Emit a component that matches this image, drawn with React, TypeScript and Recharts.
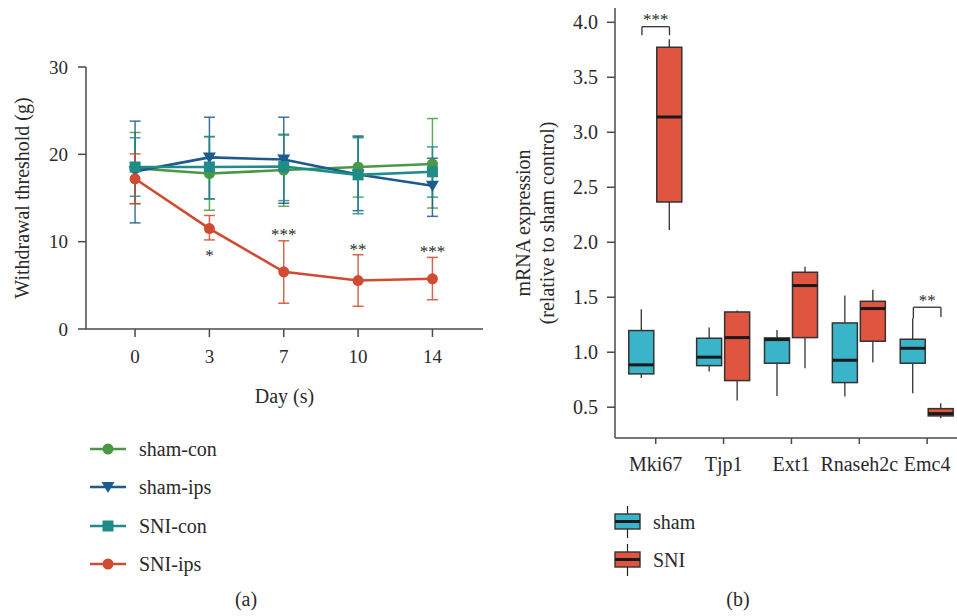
import React from 'react';
import {
  ComposedChart,
  LineChart,
  Line,
  Bar,
  XAxis,
  YAxis,
  ErrorBar,
  ReferenceDot,
  ReferenceLine,
  Legend,
} from 'recharts';

const FONT = '"Liberation Serif", "DejaVu Serif", serif';
const TEXT = '#2a2a2a';
const AXIS = '#4a4a4a';

// ---------- Panel (a) data ----------
const days = ['0', '3', '7', '10', '14'];
const shamConMean = [18.4, 17.8, 18.2, 18.55, 18.9];
const shamConLow = [14.35, 13.6, 14.05, 15.1, 13.85];
const shamConHigh = [22.5, 22.05, 22.3, 22.0, 24.1];
const shamIpsMean = [18.05, 19.65, 19.4, 17.7, 16.4];
const shamIpsLow = [12.15, 14.9, 14.4, 13.55, 12.9];
const shamIpsHigh = [23.8, 24.25, 24.25, 22.1, 19.55];
const sniConMean = [18.55, 18.55, 18.6, 17.65, 18.0];
const sniConLow = [15.2, 14.9, 14.7, 13.2, 15.1];
const sniConHigh = [21.9, 22.0, 22.2, 21.9, 20.85];
const sniIpsMean = [17.2, 11.5, 6.55, 5.55, 5.75];
const sniIpsLow = [14.35, 10.2, 2.95, 2.6, 3.35];
const sniIpsHigh = [20.05, 13.0, 10.1, 8.5, 8.2];
const sigLeftIdx = [1, 2, 3, 4];
const sigLeftText = ['*', '***', '**', '***'];
const sigLeftY = [7.8, 10.2, 8.5, 8.2];

// ---------- Panel (b) data ----------
const genes = ['Mki67', 'Tjp1', 'Ext1', 'Rnaseh2c', 'Emc4'];
const shamMin = [0.766, 0.824, 0.603, 0.597, 0.627];
const shamQ1 = [0.803, 0.878, 0.9, 0.724, 0.9];
const shamMed = [0.885, 0.955, 1.115, 0.927, 1.036];
const shamQ3 = [1.197, 1.127, 1.13, 1.266, 1.118];
const shamMax = [1.391, 1.224, 1.203, 1.515, 1.309];
const sniMin = [2.112, 0.56, 0.854, 0.906, 0.4];
const sniQ1 = [2.366, 0.742, 1.133, 1.1, 0.421];
const sniMed = [3.139, 1.133, 1.606, 1.397, 0.442];
const sniQ3 = [3.773, 1.366, 1.727, 1.463, 0.487];
const sniMax = [3.845, 1.379, 1.778, 1.569, 0.536];
const rightTicks = [0.5, 1.0, 1.5, 2.0, 2.5, 3.0, 3.5, 4.0];
const bracketIdx = [0, 4];
const bracketTop = [3.96, 1.409];
const bracketLeftBottom = [3.882, 1.309];
const bracketRightBottom = [3.882, 1.32];
const bracketText = ['***', '**'];
const bracketTextY = [3.975, 1.42];

const C_GREEN = '#4b9844';
const C_BLUE = '#1d5a8e';
const C_TEAL = '#1f8c88';
const C_RED = '#d04b33';
const C_SHAM = '#3ab4c8';
const C_SNI = '#df5540';

const leftData = days.map((d, i) => ({
  idx: i,
  day: d,
  shamCon: shamConMean[i],
  shamConErr: [shamConMean[i] - shamConLow[i], shamConHigh[i] - shamConMean[i]],
  shamIps: shamIpsMean[i],
  shamIpsErr: [shamIpsMean[i] - shamIpsLow[i], shamIpsHigh[i] - shamIpsMean[i]],
  sniCon: sniConMean[i],
  sniConErr: [sniConMean[i] - sniConLow[i], sniConHigh[i] - sniConMean[i]],
  sniIps: sniIpsMean[i],
  sniIpsErr: [sniIpsMean[i] - sniIpsLow[i], sniIpsHigh[i] - sniIpsMean[i]],
}));

const rightData = genes.map((g, i) => ({
  idx: i,
  gene: g,
  sham: { min: shamMin[i], q1: shamQ1[i], med: shamMed[i], q3: shamQ3[i], max: shamMax[i] },
  sni: { min: sniMin[i], q1: sniQ1[i], med: sniMed[i], q3: sniQ3[i], max: sniMax[i] },
}));

type Shape = 'circle' | 'square' | 'triangle';

const leftSeries: { key: string; name: string; color: string; shape: Shape }[] = [
  { key: 'shamCon', name: 'sham-con', color: C_GREEN, shape: 'circle' },
  { key: 'shamIps', name: 'sham-ips', color: C_BLUE, shape: 'triangle' },
  { key: 'sniCon', name: 'SNI-con', color: C_TEAL, shape: 'square' },
  { key: 'sniIps', name: 'SNI-ips', color: C_RED, shape: 'circle' },
];

function marker(shape: Shape, cx: number, cy: number, color: string, key?: any) {
  if (shape === 'circle') return <circle key={key} cx={cx} cy={cy} r={5.5} fill={color} stroke="none" />;
  if (shape === 'square') return <rect key={key} x={cx - 5.5} y={cy - 5.5} width={11} height={11} fill={color} stroke="none" />;
  return (
    <path
      key={key}
      d={`M${cx - 6.5},${cy - 5} L${cx + 6.5},${cy - 5} L${cx},${cy + 6} Z`}
      fill={color}
      stroke="none"
    />
  );
}

const makeTick = (orient: 'bottom' | 'left', size: number, fmt: (v: any) => string) => (p: any) => {
  const v = p.payload ? p.payload.value : p.value;
  if (orient === 'bottom') {
    return (
      <text x={p.x} y={p.y} dy="0.71em" textAnchor="middle" fontFamily={FONT} fontSize={size} fill={TEXT}>
        {fmt(v)}
      </text>
    );
  }
  return (
    <text x={p.x} y={p.y} dy="0.35em" textAnchor="end" fontFamily={FONT} fontSize={size} fill={TEXT}>
      {fmt(v)}
    </text>
  );
};

const LeftLegend = () => (
  <div style={{ fontFamily: FONT, fontSize: 20, color: TEXT }}>
    {leftSeries.map((s) => (
      <div key={s.key} style={{ display: 'flex', alignItems: 'center', height: 38.3 }}>
        <svg width={36} height={20} style={{ display: 'block' }}>
          <line x1={0} x2={36} y1={10} y2={10} stroke={s.color} strokeWidth={2.5} />
          {marker(s.shape, 18, 10, s.color)}
        </svg>
        <span style={{ marginLeft: 13, lineHeight: '20px' }}>{s.name}</span>
      </div>
    ))}
  </div>
);

const BoxIcon = ({ color }: { color: string }) => (
  <svg width={27} height={32} style={{ display: 'block' }}>
    <line x1={13.5} x2={13.5} y1={0} y2={32} stroke="#222" strokeWidth={1.2} />
    <rect x={1} y={8} width={25} height={15} fill={color} stroke="#333" strokeWidth={1.4} />
    <line x1={1} x2={26} y1={15.5} y2={15.5} stroke="#1a1a1a" strokeWidth={3} />
  </svg>
);

const RightLegend = () => (
  <div style={{ fontFamily: FONT, fontSize: 20, color: TEXT }}>
    {[
      { name: 'sham', color: C_SHAM },
      { name: 'SNI', color: C_SNI },
    ].map((s) => (
      <div key={s.name} style={{ display: 'flex', alignItems: 'center', height: 38.3 }}>
        <BoxIcon color={s.color} />
        <span style={{ marginLeft: 12, lineHeight: '20px' }}>{s.name}</span>
      </div>
    ))}
  </div>
);

const makeBox = (color: string, key: 'sham' | 'sni') => (props: any) => {
  const { x, y, width, height, payload } = props;
  const b = payload[key];
  const top = Math.min(y, y + height);
  const h = Math.abs(height);
  const k = h / (b.q3 - b.q1);
  const yOf = (v: number) => top + (b.q3 - v) * k;
  const cx = x + width / 2;
  return (
    <g>
      <line x1={cx} x2={cx} y1={yOf(b.max)} y2={top} stroke="#333" strokeWidth={1.3} />
      <line x1={cx} x2={cx} y1={top + h} y2={yOf(b.min)} stroke="#333" strokeWidth={1.3} />
      <rect x={x} y={top} width={width} height={h} fill={color} stroke="#333" strokeWidth={1.5} />
      <line x1={x} x2={x + width} y1={yOf(b.med)} y2={yOf(b.med)} stroke="#1a1a1a" strokeWidth={3} />
    </g>
  );
};

const starLabel = (text: string, size: number) => (p: any) => {
  const vb = p.viewBox || {};
  const cx = vb.x + (vb.width || 0) / 2;
  const cy = vb.y + (vb.height || 0) / 2;
  return (
    <text x={cx} y={cy} textAnchor="middle" fontFamily={FONT} fontSize={size} fill={TEXT}>
      {text}
    </text>
  );
};

const RightYLabel = (p: any) => {
  const vb = p.viewBox || {};
  const cy = vb.y + vb.height / 2;
  const x1 = vb.x + 13;
  const x2 = vb.x + 37;
  return (
    <g>
      <text
        x={x1}
        y={cy}
        transform={`rotate(-90, ${x1}, ${cy})`}
        textAnchor="middle"
        dominantBaseline="central"
        fontFamily={FONT}
        fontSize={20}
        fill={TEXT}
      >
        mRNA expression
      </text>
      <text
        x={x2}
        y={cy}
        transform={`rotate(-90, ${x2}, ${cy})`}
        textAnchor="middle"
        dominantBaseline="central"
        fontFamily={FONT}
        fontSize={20}
        fill={TEXT}
      >
        (relative to sham control)
      </text>
    </g>
  );
};

export default function App() {
  return (
    <div
      style={{
        position: 'absolute',
        left: 0,
        top: 0,
        width: 957,
        height: 616,
        background: '#fff',
        fontFamily: FONT,
        overflow: 'hidden',
      }}
    >
      {/* Panel (a) */}
      <div style={{ position: 'absolute', left: 0, top: 0 }}>
        <LineChart
          width={484}
          height={616}
          data={leftData}
          margin={{ top: 67, right: 1, bottom: 257, left: 22 }}
        >
          <XAxis
            type="number"
            dataKey="idx"
            domain={[-0.66, 4.68]}
            ticks={[0, 1, 2, 3, 4]}
            height={30}
            tick={makeTick('bottom', 19, (v) => days[v])}
            tickSize={8}
            tickMargin={13}
            axisLine={{ stroke: AXIS, strokeWidth: 1.5 }}
            tickLine={{ stroke: AXIS, strokeWidth: 1.5 }}
            allowDataOverflow
            label={{
              value: 'Day (s)',
              position: 'bottom',
              offset: 30,
              style: { fontFamily: FONT, fontSize: 20, fill: TEXT },
            }}
          />
          <YAxis
            type="number"
            domain={[0, 30]}
            ticks={[0, 10, 20, 30]}
            width={64}
            tick={makeTick('left', 19, (v) => String(v))}
            tickSize={8}
            tickMargin={10}
            axisLine={{ stroke: AXIS, strokeWidth: 1.5 }}
            tickLine={{ stroke: AXIS, strokeWidth: 1.5 }}
            label={{
              value: 'Withdrawal threshold (g)',
              angle: -90,
              position: 'insideLeft',
              offset: 0,
              style: { textAnchor: 'middle', fontFamily: FONT, fontSize: 20, fill: TEXT },
            }}
          />
          {leftSeries.map((s) => (
            <Line
              key={s.key}
              type="linear"
              dataKey={s.key}
              name={s.name}
              stroke={s.color}
              strokeWidth={2.6}
              isAnimationActive={false}
              dot={(p: any) => marker(s.shape, p.cx, p.cy, s.color, `${s.key}-${p.index}`)}
              activeDot={false}
            >
              <ErrorBar
                dataKey={`${s.key}Err`}
                direction="y"
                width={5.5}
                stroke={s.color}
                strokeWidth={1.5}
                strokeOpacity={0.85}
                isAnimationActive={false}
              />
            </Line>
          ))}
          {sigLeftIdx.map((ix, i) => (
            <ReferenceDot
              key={`sig-${i}`}
              x={ix}
              y={sigLeftY[i]}
              r={0}
              fill="none"
              stroke="none"
              label={starLabel(sigLeftText[i], 17)}
            />
          ))}
          <Legend
            layout="vertical"
            align="center"
            verticalAlign="middle"
            content={<LeftLegend />}
            wrapperStyle={{ left: 90, top: 430, bottom: 'auto', right: 'auto', width: 'auto' }}
          />
        </LineChart>
      </div>

      {/* Panel (b) */}
      <div style={{ position: 'absolute', left: 480, top: 0 }}>
        <ComposedChart
          width={477}
          height={616}
          data={rightData}
          margin={{ top: 8, right: 0, bottom: 138, left: 30 }}
          barGap={3}
        >
          <XAxis
            type="number"
            dataKey="idx"
            domain={[-0.6, 4.44]}
            ticks={[0, 1, 2, 3, 4]}
            height={40}
            tick={makeTick('bottom', 20, (v) => genes[v])}
            tickSize={6}
            tickMargin={13}
            interval={0}
            axisLine={{ stroke: AXIS, strokeWidth: 1.5 }}
            tickLine={{ stroke: AXIS, strokeWidth: 1.5 }}
            allowDataOverflow
          />
          <YAxis
            type="number"
            domain={[0.22, 4.13]}
            ticks={rightTicks}
            width={105}
            tick={makeTick('left', 20, (v) => Number(v).toFixed(1))}
            tickSize={8}
            tickMargin={9}
            axisLine={{ stroke: AXIS, strokeWidth: 1.5 }}
            tickLine={{ stroke: AXIS, strokeWidth: 1.5 }}
            allowDataOverflow
            label={{ content: RightYLabel, position: 'insideLeft' }}
          />
          <Bar
            dataKey={(d: any) => [d.sham.q1, d.sham.q3]}
            name="sham"
            barSize={25}
            fill={C_SHAM}
            shape={makeBox(C_SHAM, 'sham')}
            isAnimationActive={false}
          />
          <Bar
            dataKey={(d: any) => [d.sni.q1, d.sni.q3]}
            name="SNI"
            barSize={25}
            fill={C_SNI}
            shape={makeBox(C_SNI, 'sni')}
            isAnimationActive={false}
          />
          {bracketIdx.map((gi, i) => (
            <ReferenceLine
              key={`bl-${i}`}
              segment={[
                { x: gi - 0.203, y: bracketLeftBottom[i] },
                { x: gi - 0.203, y: bracketTop[i] },
              ]}
              stroke="#333"
              strokeWidth={1.3}
            />
          ))}
          {bracketIdx.map((gi, i) => (
            <ReferenceLine
              key={`bt-${i}`}
              segment={[
                { x: gi - 0.203, y: bracketTop[i] },
                { x: gi + 0.203, y: bracketTop[i] },
              ]}
              stroke="#333"
              strokeWidth={1.3}
            />
          ))}
          {bracketIdx.map((gi, i) => (
            <ReferenceLine
              key={`br-${i}`}
              segment={[
                { x: gi + 0.203, y: bracketTop[i] },
                { x: gi + 0.203, y: bracketRightBottom[i] },
              ]}
              stroke="#333"
              strokeWidth={1.3}
            />
          ))}
          {bracketIdx.map((gi, i) => (
            <ReferenceDot
              key={`bs-${i}`}
              x={gi}
              y={bracketTextY[i]}
              r={0}
              fill="none"
              stroke="none"
              label={starLabel(bracketText[i], 17)}
            />
          ))}
          <Legend
            layout="vertical"
            align="center"
            verticalAlign="middle"
            content={<RightLegend />}
            wrapperStyle={{ left: 134, top: 503, bottom: 'auto', right: 'auto', width: 'auto' }}
          />
        </ComposedChart>
      </div>

      <div
        style={{
          position: 'absolute',
          left: 226,
          top: 588,
          width: 40,
          textAlign: 'center',
          fontSize: 20,
          color: TEXT,
          lineHeight: '22px',
        }}
      >
        (a)
      </div>
      <div
        style={{
          position: 'absolute',
          left: 718,
          top: 588,
          width: 40,
          textAlign: 'center',
          fontSize: 20,
          color: TEXT,
          lineHeight: '22px',
        }}
      >
        (b)
      </div>
    </div>
  );
}
